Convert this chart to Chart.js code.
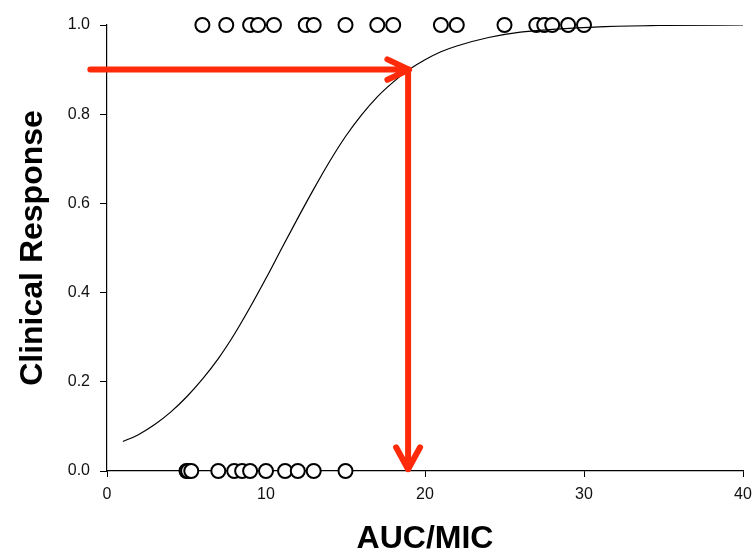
<!DOCTYPE html>
<html>
<head>
<meta charset="utf-8">
<title>Clinical Response vs AUC/MIC</title>
<script src="https://cdn.jsdelivr.net/npm/chart.js@4.4.1/dist/chart.umd.min.js"></script>
<style>
  html, body { margin: 0; padding: 0; background: #fff; }
  #wrap { position: relative; width: 754px; height: 554px; }
</style>
</head>
<body>
<div id="wrap"><canvas id="chart"></canvas></div>
<script>
// observed outcomes: AUC/MIC of patients who responded (1) / failed (0)
var RESPONDERS = [6, 7.5, 9, 9.5, 10.5, 12.5, 13, 15, 17, 18, 21, 22, 25, 27, 27.5, 28, 29, 30];
var NON_RESPONDERS = [5, 5.1, 5.3, 7, 8, 8.5, 9, 10, 11.2, 12, 13, 15];

// fitted response curve, sampled along AUC/MIC
var CURVE_X = [1, 2, 3, 4, 5, 6, 7, 8, 9, 10, 11, 12, 13, 14, 15, 16, 17, 18, 19, 20, 21, 22, 24, 26, 28, 31, 35, 40];
var CURVE_Y = [0.066, 0.082, 0.104, 0.132, 0.166, 0.206, 0.252, 0.306, 0.367, 0.432, 0.500, 0.567, 0.632, 0.694, 0.750, 0.798, 0.839, 0.872, 0.900, 0.922, 0.940, 0.953, 0.972, 0.984, 0.990, 0.996, 0.999, 1.0];

// read-off arrows: 90% response -> AUC/MIC of 19
var TARGET_X = 19;
var TARGET_Y = 0.9;
var ARROW_FROM_X = -1.05;
var ARROW_TO_Y = 0.004;

var X_TICKS = [0, 10, 20, 30, 40];
var Y_TICKS = [0, 0.2, 0.4, 0.6, 0.8, 1.0];

var FONT = '"Liberation Sans", Arial, Helvetica, sans-serif';
var RED = '#ff2a0a';

function pts(xs, ys) {
  return xs.map(function (x, i) { return { x: x, y: Array.isArray(ys) ? ys[i] : ys }; });
}

// strokes a line with an open arrowhead at (x2, y2)
function arrow(ctx, x1, y1, x2, y2, len, spread) {
  var ang = Math.atan2(y2 - y1, x2 - x1);
  ctx.beginPath();
  ctx.moveTo(x1, y1);
  ctx.lineTo(x2, y2);
  ctx.moveTo(x2 - len * Math.cos(ang - spread), y2 - len * Math.sin(ang - spread));
  ctx.lineTo(x2, y2);
  ctx.lineTo(x2 - len * Math.cos(ang + spread), y2 - len * Math.sin(ang + spread));
  ctx.stroke();
}

var arrowPlugin = {
  id: 'readoffArrows',
  afterDatasetsDraw: function (chart) {
    var ctx = chart.ctx, xs = chart.scales.x, ys = chart.scales.y;
    var tx = xs.getPixelForValue(TARGET_X), ty = ys.getPixelForValue(TARGET_Y);
    ctx.save();
    ctx.strokeStyle = RED;
    ctx.lineWidth = 6;
    ctx.lineCap = 'round';
    ctx.lineJoin = 'round';
    arrow(ctx, xs.getPixelForValue(ARROW_FROM_X), ty, tx, ty, 24, 0.44);
    arrow(ctx, tx - 1, ty, tx - 1, ys.getPixelForValue(ARROW_TO_Y), 25, 0.5);
    ctx.restore();
  }
};

new Chart(document.getElementById('chart'), {
  type: 'scatter',
  data: {
    datasets: [{
      type: 'line',
      label: 'fit',
      data: pts(CURVE_X, CURVE_Y),
      borderColor: '#000',
      borderWidth: 1.2,
      pointRadius: 0,
      cubicInterpolationMode: 'monotone',
      fill: false,
      order: 0
    }, {
      label: 'responders',
      data: pts(RESPONDERS, 1),
      pointRadius: 7,
      pointHoverRadius: 7,
      borderWidth: 2,
      borderColor: '#000',
      backgroundColor: '#fff',
      clip: false,
      order: 1
    }, {
      label: 'non-responders',
      data: pts(NON_RESPONDERS, 0),
      pointRadius: 7,
      pointHoverRadius: 7,
      borderWidth: 2,
      borderColor: '#000',
      backgroundColor: '#fff',
      clip: false,
      order: 1
    }]
  },
  options: {
    responsive: true,
    maintainAspectRatio: false,
    animation: false,
    layout: { padding: { top: 25, right: 11, left: 0, bottom: 0 } },
    plugins: { legend: { display: false }, tooltip: { enabled: false } },
    scales: {
      x: {
        type: 'linear', min: 0, max: 40,
        afterBuildTicks: function (s) { s.ticks = X_TICKS.map(function (v) { return { value: v }; }); },
        afterFit: function (s) { s.height = 83; s.paddingLeft = 0; s.paddingRight = 0; },
        ticks: { color: '#111', padding: 8, font: { family: FONT, size: 16 } },
        grid: { drawOnChartArea: false, drawTicks: true, tickLength: 6, color: '#000', lineWidth: 1 },
        border: { color: '#000', width: 1.2 },
        title: {
          display: true, text: 'AUC/MIC', color: '#000',
          font: { family: FONT, size: 32, weight: 'bold' },
          padding: { top: 0, bottom: -4 }
        }
      },
      y: {
        type: 'linear', min: 0, max: 1,
        afterBuildTicks: function (s) { s.ticks = Y_TICKS.map(function (v) { return { value: v }; }); },
        afterFit: function (s) { s.width = 107; },
        ticks: {
          color: '#111', padding: 10, font: { family: FONT, size: 16 },
          callback: function (v) { return Number(v).toFixed(1); }
        },
        grid: { drawOnChartArea: false, drawTicks: true, tickLength: 7, color: '#000', lineWidth: 1 },
        border: { color: '#000', width: 1.2 },
        title: {
          display: true, text: 'Clinical Response', color: '#000',
          font: { family: FONT, size: 32, weight: 'bold' },
          padding: { top: 14, bottom: 0 }
        }
      }
    }
  },
  plugins: [arrowPlugin]
});
</script>
</body>
</html>
